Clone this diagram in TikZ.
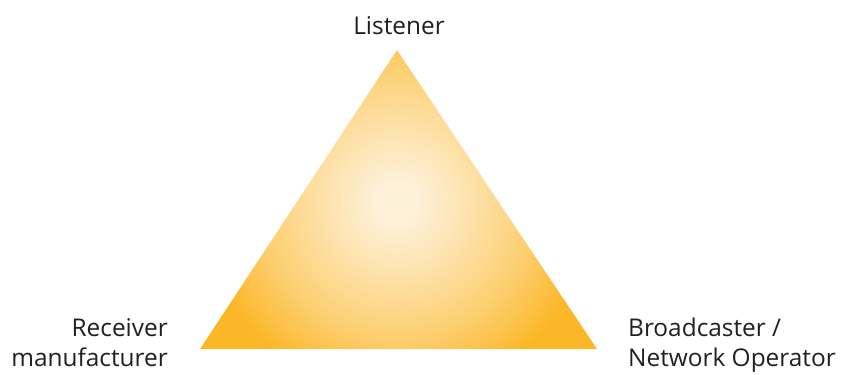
\documentclass[tikz,border=0pt]{standalone}
\usepackage{fontspec}
\setmainfont{Open Sans}
\usepackage{tikz}
\usetikzlibrary{positioning}
\definecolor{trilight}{RGB}{253,241,218}
\definecolor{triorange}{RGB}{252,183,40}
\definecolor{txtdark}{RGB}{35,31,32}
\pgfdeclareradialshading{trishade}{\pgfpoint{0bp}{0bp}}{%
  color(0bp)=(trilight); color(2bp)=(trilight);
  color(10bp)=(triorange!40!trilight); color(14bp)=(triorange!62!trilight);
  color(19.5bp)=(triorange); color(50bp)=(triorange)}

\begin{document}
\begin{tikzpicture}[
  x=1bp,y=1bp,
  lbl/.style={font=\fontsize{24.5}{30}\selectfont,text=txtdark,inner sep=0pt},
]
  \useasboundingbox (0,0) rectangle (853,374);
  \coordinate (apex)  at (397,324);
  \coordinate (left)  at (200,25);
  \coordinate (right) at (597,25);
  \coordinate (glow)  at (397,172);
  \begin{scope}
    \clip (apex) -- (left) -- (right) -- cycle;
    \shade[shading=trishade] (glow) circle (250);
  \end{scope}
  \node[lbl,anchor=base] (listener) at (399,340) {Listener};
  \node[lbl,anchor=north east,align=right] (receiver) at (168,56) {Receiver\\manufacturer};
  \node[lbl,anchor=north west,align=left] (broadcaster) at (628,56) {Broadcaster /\\Network Operator};
\end{tikzpicture}
\end{document}
